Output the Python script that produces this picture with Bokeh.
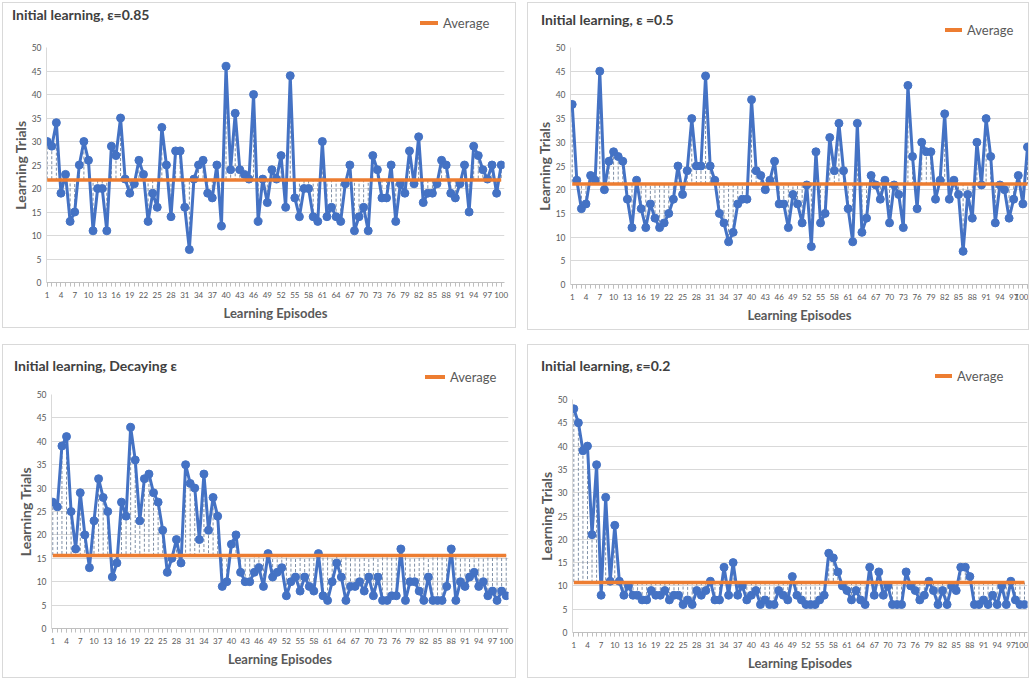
from bokeh.plotting import figure
from bokeh.layouts import column, row
from bokeh.models import Range1d, FixedTicker, ColumnDataSource, Div
from bokeh.embed import file_html
from bokeh.resources import INLINE

episodes = list(range(1, 101))

eps_085 = [30, 29, 34, 19, 23, 13, 15, 25, 30, 26,
           11, 20, 20, 11, 29, 27, 35, 22, 19, 21,
           26, 23, 13, 19, 16, 33, 25, 14, 28, 28,
           16, 7, 22, 25, 26, 19, 18, 25, 12, 46,
           24, 36, 24, 23, 22, 40, 13, 22, 17, 24,
           22, 27, 16, 44, 18, 14, 20, 20, 14, 13,
           30, 14, 16, 14, 13, 21, 25, 11, 14, 16,
           11, 27, 24, 18, 18, 25, 13, 21, 19, 28,
           21, 31, 17, 19, 19, 21, 26, 25, 19, 18,
           21, 25, 15, 29, 27, 24, 22, 25, 19, 25]

eps_05 = [38, 22, 16, 17, 23, 22, 45, 20, 26, 28,
          27, 26, 18, 12, 22, 16, 12, 17, 14, 12,
          13, 15, 18, 25, 19, 24, 35, 25, 25, 44,
          25, 22, 15, 13, 9, 11, 17, 18, 18, 39,
          24, 23, 20, 22, 26, 17, 17, 12, 19, 17,
          13, 21, 8, 28, 13, 15, 31, 24, 34, 24,
          16, 9, 34, 11, 14, 23, 21, 18, 22, 13,
          21, 19, 12, 42, 27, 16, 30, 28, 28, 18,
          22, 36, 18, 22, 19, 7, 19, 14, 30, 21,
          35, 27, 13, 21, 20, 14, 18, 23, 17, 29]

eps_decay = [27, 26, 39, 41, 25, 17, 29, 20, 13, 23,
             32, 28, 25, 11, 14, 27, 24, 43, 36, 23,
             32, 33, 29, 27, 21, 12, 15, 19, 14, 35,
             31, 30, 19, 33, 21, 28, 24, 9, 10, 18,
             20, 12, 10, 10, 12, 13, 9, 16, 11, 12,
             13, 7, 10, 11, 8, 11, 9, 8, 16, 7,
             6, 10, 14, 11, 6, 9, 9, 10, 8, 11,
             7, 11, 6, 6, 7, 7, 17, 6, 10, 10,
             8, 6, 11, 6, 6, 6, 9, 17, 6, 10,
             9, 11, 12, 9, 10, 7, 8, 6, 8, 7]

eps_02 = [48, 45, 39, 40, 21, 36, 8, 29, 11, 23,
          11, 8, 10, 8, 8, 7, 7, 9, 8, 8,
          9, 7, 8, 8, 6, 7, 6, 9, 8, 9,
          11, 7, 7, 14, 8, 15, 8, 10, 7, 8,
          9, 6, 7, 6, 6, 9, 8, 7, 12, 8,
          7, 6, 6, 6, 7, 8, 17, 16, 13, 10,
          9, 7, 9, 7, 6, 14, 8, 13, 8, 10,
          6, 6, 6, 13, 10, 9, 7, 8, 11, 9,
          6, 9, 6, 10, 9, 14, 14, 12, 6, 6,
          7, 6, 8, 6, 10, 6, 11, 7, 6, 6]

titles = ["Initial learning, \u03b5=0.85", "Initial learning, \u03b5 =0.5",
          "Initial learning, Decaying \u03b5", "Initial learning, \u03b5=0.2"]
legend_label = "Average"
x_ticks = list(range(1, 101, 3))
y_ticks = list(range(0, 51, 5))

BLUE = "#4472C4"
ORANGE = "#ED7D31"
GREY = "#595959"
FONT = "Lato"


def make_header(title, w, hh, title_xy, leg_xy, leg_w):
    # strip on top of each panel holding the chart title and the legend
    tx, ty = title_xy
    lx, ly = leg_xy
    html = (
        f'<div style="position:relative;width:{w}px;height:{hh}px;font-family:{FONT};">'
        f'<span style="position:absolute;left:{tx}px;top:{ty - 9}px;line-height:18px;'
        f'font-size:14px;font-weight:bold;color:#404040;white-space:nowrap;">{title}</span>'
        f'<span style="position:absolute;left:{lx}px;top:{ly - 2}px;width:{leg_w}px;'
        f'height:3.5px;background:{ORANGE};"></span>'
        f'<span style="position:absolute;left:{lx + leg_w + 5}px;top:{ly - 8}px;'
        f'line-height:16px;font-size:13px;color:{GREY};white-space:nowrap;">{legend_label}</span>'
        f'</div>')
    return Div(text=html, width=w, height=hh, margin=0)


def make_main(vals, w, h, mb, xr):
    ml, mt, mr, mbot = mb
    p = figure(width=w, height=h, x_range=Range1d(*xr), y_range=Range1d(0, 50),
               title=None, output_backend="svg", toolbar_location=None,
               min_border_left=ml, min_border_top=mt, min_border_right=mr,
               min_border_bottom=mbot)
    avg = sum(vals) / len(vals)
    src = ColumnDataSource(dict(x=episodes, y=vals, a=[avg] * len(vals)))
    p.segment(x0="x", y0="y", x1="x", y1="a", source=src, line_color="#7f8fa6",
              line_width=1, line_dash="3 2")
    p.line(x="x", y="y", source=src, line_color=BLUE, line_width=3)
    p.scatter(x="x", y="y", source=src, size=8, fill_color=BLUE, line_color=BLUE)
    p.line(x=[episodes[0], episodes[-1]], y=[avg, avg], line_color=ORANGE, line_width=3.5)

    p.outline_line_color = None
    p.xgrid.visible = False
    p.ygrid.grid_line_color = "#d9d9d9"
    p.ygrid.grid_line_width = 1

    xa = p.xaxis[0]
    xa.ticker = FixedTicker(ticks=x_ticks, minor_ticks=episodes)
    xa.axis_line_color = "#bfbfbf"
    xa.major_tick_line_color = "#bfbfbf"
    xa.minor_tick_line_color = "#bfbfbf"
    xa.major_tick_in = 0
    xa.major_tick_out = 4
    xa.minor_tick_in = 0
    xa.minor_tick_out = 4
    xa.major_label_standoff = 5
    xa.major_label_text_font = FONT
    xa.major_label_text_font_size = "8px"
    xa.major_label_text_color = GREY
    xa.axis_label = "Learning Episodes"
    xa.axis_label_text_font = FONT
    xa.axis_label_text_font_size = "13px"
    xa.axis_label_text_font_style = "bold"
    xa.axis_label_text_color = GREY
    xa.axis_label_standoff = 4

    ya = p.yaxis[0]
    ya.ticker = FixedTicker(ticks=y_ticks)
    ya.axis_line_color = "#d9d9d9"
    ya.major_tick_line_color = None
    ya.minor_tick_line_color = None
    ya.major_tick_in = 0
    ya.major_tick_out = 0
    ya.minor_tick_in = 0
    ya.minor_tick_out = 0
    ya.major_label_standoff = 5
    ya.major_label_text_font = FONT
    ya.major_label_text_font_size = "8.5px"
    ya.major_label_text_color = GREY
    ya.axis_label = "Learning Trials"
    ya.axis_label_text_font = FONT
    ya.axis_label_text_font_size = "14px"
    ya.axis_label_text_font_style = "bold"
    ya.axis_label_text_color = GREY
    ya.axis_label_standoff = 0
    return p


def make_panel(title, vals, w, h, hh, title_xy, leg_xy, leg_w, mb, xr):
    hd = make_header(title, w, hh, title_xy, leg_xy, leg_w)
    mn = make_main(vals, w, h - hh, mb, xr)
    return column(hd, mn, spacing=0, styles={"border": "1px solid #d9d9d9"})


c1 = make_panel(titles[0], eps_085, 512, 324, 36, (9, 12), (417, 20), 18,
                (43, 8, 11, 45), (0.85, 100.72))
c2 = make_panel(titles[1], eps_05, 500, 326, 36, (13, 17), (417, 27), 17,
                (42, 8, 0, 45), (0.63, 100.22))
c3 = make_panel(titles[2], eps_decay, 512, 332, 40, (11, 21), (422, 32), 20,
                (48, 9, 7, 49), (0.72, 100.5))
c4 = make_panel(titles[3], eps_02, 500, 332, 40, (13, 21), (407, 31), 17,
                (44, 14, 1, 45), (0.71, 100.66))

layout = column(row(c1, c2, spacing=11), row(c3, c4, spacing=11), spacing=14,
                margin=(2, 0, 0, 2))

open("out.html", "w").write(file_html(layout, INLINE))
